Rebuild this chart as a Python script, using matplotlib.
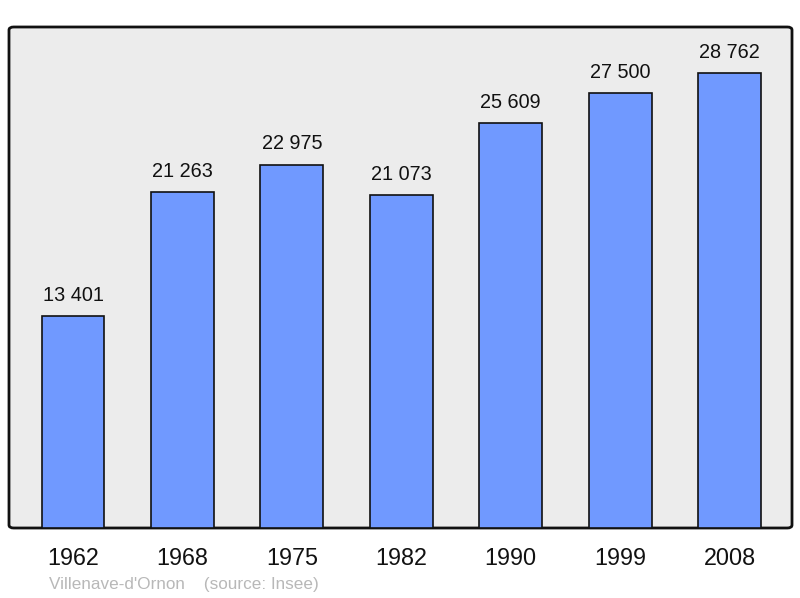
import matplotlib.pyplot as plt
from matplotlib.patches import FancyBboxPatch

plt.rcParams['font.family'] = ['Liberation Sans', 'DejaVu Sans']

years = ['1962', '1968', '1975', '1982', '1990', '1999', '2008']
population = [13401, 21263, 22975, 21073, 25609, 27500, 28762]


def fmt(v):
    return f'{v:,}'.replace(',', ' ')


def main():
    fig = plt.figure(figsize=(8, 5.98), dpi=100)
    ax = fig.add_axes([9 / 800, 70 / 598, 783 / 800, 501 / 598])
    ax.set_facecolor('none')
    ax.set_xlim(-0.585, 6.57)
    ax.set_ylim(0, 31670)

    bg = FancyBboxPatch((0, 0), 1, 1, boxstyle='round,pad=0,rounding_size=0.006',
                        transform=ax.transAxes, facecolor='#ececec',
                        edgecolor='#111111', linewidth=2, zorder=0, clip_on=False)
    ax.add_patch(bg)

    x = range(len(years))
    ax.bar(x, population, width=0.575, color='#7099ff', edgecolor='#111111',
           linewidth=1.2, zorder=2)
    for i, v in zip(x, population):
        ax.annotate(fmt(v), (i, v), xytext=(0, 8), textcoords='offset points',
                    ha='center', va='bottom', fontsize=14.3, color='#111111')

    for s in ax.spines.values():
        s.set_visible(False)
    ax.set_xticks(list(x))
    ax.set_xticklabels(years, fontsize=16.8, color='#111111')
    ax.tick_params(axis='x', length=0, pad=14)
    ax.set_yticks([])

    fig.text(49 / 800, 1 - 584 / 598, "Villenave-d'Ornon    (source: Insee)",
             fontsize=12.3, color='#b8b8b8', va='center', ha='left')

    fig.savefig('out.png', dpi=100)


if __name__ == '__main__':
    main()
